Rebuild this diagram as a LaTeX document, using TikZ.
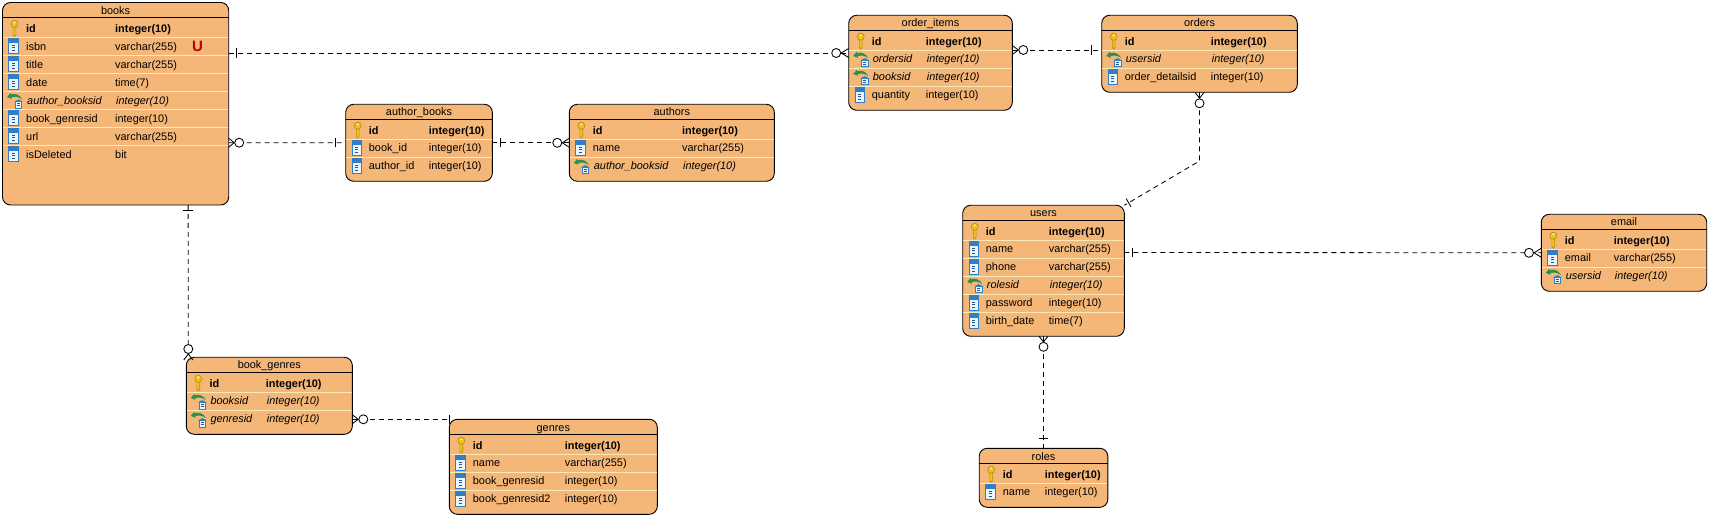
\documentclass[tikz,border=0pt]{standalone}
\usepackage{fontspec}
\setmainfont{Liberation Sans}
\usetikzlibrary{calc}
\definecolor{erfill}{HTML}{F4B778}
\definecolor{ersep}{HTML}{FBE9B8}
\definecolor{erblue}{HTML}{2F7FC8}
\definecolor{ericonbg}{HTML}{EAF4FC}
\definecolor{ergreen}{HTML}{2E8F4E}
\definecolor{erkey}{HTML}{F2C21C}
\definecolor{erkeyedge}{HTML}{B58A10}
\tikzset{
  x=1pt,y=-1pt,
  entity/.style={draw=black,line width=.9pt,fill=erfill,rounded corners=8pt,inner sep=0pt,outer sep=0pt},
  titletext/.style={font=\fontsize{10.9}{12}\selectfont,inner sep=0pt,anchor=base},
  celltext/.style={font=\fontsize{10.9}{12}\selectfont,inner sep=0pt,anchor=base west},
  link/.style={line width=.85pt,dash pattern=on 5pt off 4pt},
  markline/.style={line width=.85pt},
  crowm/.pic={
    \draw[markline] (0,-4.5) -- (#1-5,0) -- (0,4.5);
    \draw[markline,fill=white] (#1,0) circle[radius=4.5pt];
  },
  tickm/.pic={\draw[markline] (#1,-4.7) -- (#1,4.7);},
  keyicon/.pic={
    \draw[line width=.6pt,draw=erkeyedge,fill=erkey] (-1.4,-2) -- (-1.4,6.2) -- (0,7.8) -- (1.4,6.2) -- (1.4,-2) -- cycle;
    \draw[line width=.6pt,draw=erkeyedge,fill=erkey] (0,-4.6) ellipse[x radius=3.5pt,y radius=3.6pt];
    \fill[white] (0,-6) circle[radius=.9pt];
  },
  colicon/.pic={
    \draw[line width=.7pt,draw=erblue,fill=ericonbg] (-4.7,-7.2) rectangle (4.7,7.2);
    \fill[erblue] (-4.7,-7.2) rectangle (4.7,-3);
    \foreach \yy in {-.7,2,4.7}{\draw[line width=1pt,draw=erblue!70!black] (-1.7,\yy) -- (1.7,\yy);}
  },
  fkicon/.pic={
    \fill[erblue!80!ergreen] (.8,1.5) -- (5,-.6) -- (9.2,1.5) -- cycle;
    \draw[line width=.6pt,draw=erblue,fill=ericonbg] (1.8,1.5) rectangle (8.2,8);
    \foreach \yy in {3.5,5.8}{\draw[line width=1pt,draw=erblue!70!black] (3.5,\yy) -- (6.5,\yy);}
    \fill[ergreen] (-6.5,-2.8) -- (-3,-7) -- (-2.6,-5.6) .. controls (2,-7.2) and (6.5,-5) .. (8.5,-.8)
       .. controls (5,-3.4) and (1,-3.6) .. (-2.2,-2.6) -- (-1.8,-1) -- cycle;
  },
}
% \ertable{id}{x1}{y1}{x2}{y2}{title}{textx}{typex}{rows: kind/name/type}
\newcommand{\ertable}[9]{%
  \node[entity,minimum width=#4-#2,minimum height=#5-#3] (#1) at ({(#2+#4)/2},{(#3+#5)/2}) {};
  \node[titletext] (#1-title) at ({(#2+#4)/2},{#3+11.7}) {#6};
  \draw[line width=.9pt] (#2,{#3+14.7}) -- (#4,{#3+14.7});
  \foreach \kd/\nm/\ty [count=\ii] in {#9}{%
    \pgfmathsetmacro{\cy}{\ii==1 ? #3+26 : #3+25.5+18*(\ii-1)}%
    \pgfmathsetmacro{\by}{\cy+4.1}%
    \ifnum\kd=0
      \pic at ({#2+12},\cy) {keyicon};
      \node[celltext,font=\fontsize{10.9}{12}\selectfont\bfseries] (#1-n\ii) at (#7,\by) {\nm};
      \node[celltext,font=\fontsize{10.9}{12}\selectfont\bfseries] (#1-t\ii) at (#8,\by) {\ty};
    \fi
    \ifnum\kd=1
      \pic at ({#2+11},\cy) {colicon};
      \node[celltext] (#1-n\ii) at (#7,\by) {\nm};
      \node[celltext] (#1-t\ii) at (#8,\by) {\ty};
    \fi
    \ifnum\kd=2
      \pic at ({#2+11},\cy) {fkicon};
      \node[celltext,font=\fontsize{10.9}{12}\selectfont\itshape] (#1-n\ii) at ({#7+1},\by) {\nm};
      \node[celltext,font=\fontsize{10.9}{12}\selectfont\itshape] (#1-t\ii) at ({#8+1},\by) {\ty};
    \fi
  }%
}
% separators: \ersep{x1}{x2}{y1}{n}
\newcommand{\ersep}[4]{%
  \foreach \ii in {1,...,#4}{%
    \draw[line width=1pt,draw=ersep] ({#1+.5},{#3+35+18*(\ii-1)}) -- ({#2-.5},{#3+35+18*(\ii-1)});
  }%
}
\begin{document}
\begin{tikzpicture}
\useasboundingbox (0,0) rectangle (1710,518);
\fill[white] (0,0) rectangle (1710,518);

\ertable{books}{2.5}{2.5}{228.7}{205}{books}{26}{115}{0/id/integer(10),1/isbn/varchar(255),1/title/varchar(255),1/date/time(7),2/author\_booksid/integer(10),1/book\_genresid/integer(10),1/url/varchar(255),1/isDeleted/bit}
\ersep{2.5}{228.7}{2.5}{7}
\node[font=\fontsize{15}{16}\selectfont\bfseries,text=red!75!black,inner sep=0pt] (uniq) at (197.5,46) {U};

\ertable{authorbooks}{345.7}{104.3}{492.3}{181.3}{author\_books}{368.7}{428.7}{0/id/integer(10),1/book\_id/integer(10),1/author\_id/integer(10)}
\ersep{345.7}{492.3}{104.3}{2}

\ertable{authors}{569.3}{104.3}{774.3}{181.3}{authors}{592.7}{682}{0/id/integer(10),1/name/varchar(255),2/author\_booksid/integer(10)}
\ersep{569.3}{774.3}{104.3}{2}

\ertable{orderitems}{848.7}{15.3}{1012.3}{110.3}{order\_items}{871.7}{925.7}{0/id/integer(10),2/ordersid/integer(10),2/booksid/integer(10),1/quantity/integer(10)}
\ersep{848.7}{1012.3}{15.3}{3}

\ertable{orders}{1101.7}{15.3}{1297.3}{92.3}{orders}{1124.7}{1210.7}{0/id/integer(10),2/usersid/integer(10),1/order\_detailsid/integer(10)}
\ersep{1101.7}{1297.3}{15.3}{2}

\ertable{users}{962.7}{205.3}{1124.3}{336.3}{users}{985.7}{1048.7}{0/id/integer(10),1/name/varchar(255),1/phone/varchar(255),2/rolesid/integer(10),1/password/integer(10),1/birth\_date/time(7)}
\ersep{962.7}{1124.3}{205.3}{5}

\ertable{roles}{979.2}{448.3}{1107.8}{507.3}{roles}{1002.7}{1044.7}{0/id/integer(10),1/name/integer(10)}
\ersep{979.2}{1107.8}{448.3}{1}

\ertable{email}{1541.3}{214.3}{1706.7}{291.3}{email}{1564.7}{1613.7}{0/id/integer(10),1/email/varchar(255),2/usersid/integer(10)}
\ersep{1541.3}{1706.7}{214.3}{2}

\ertable{bookgenres}{186.3}{357.3}{352.3}{434.3}{book\_genres}{209.3}{265.7}{0/id/integer(10),2/booksid/integer(10),2/genresid/integer(10)}
\ersep{186.3}{352.3}{357.3}{2}

\ertable{genres}{449.3}{419.3}{657.3}{514.3}{genres}{472.7}{564.7}{0/id/integer(10),1/name/varchar(255),1/book\_genresid/integer(10),1/book\_genresid2/integer(10)}
\ersep{449.3}{657.3}{419.3}{3}

% connectors
\coordinate (bend) at (1199.5,161);
\draw[link] ([yshift=50.75pt]books.east) -- ([yshift=9.8pt]orderitems.west);
\draw[link] ([yshift=-38.95pt]books.east) -- (authorbooks.west);
\draw[link] (authorbooks.east) -- (authors.west);
\draw[link] ([yshift=12.8pt]orderitems.east) -- ([yshift=3.8pt]orders.west);
\draw[link] (orders.south) -- (bend) -- (users.north east);
\draw[link] ([yshift=18.3pt]users.east) -- (email.west);
\draw[link] (users.south) -- (roles.north);
\draw[link] ([xshift=72.55pt]books.south) -- ([xshift=2pt]bookgenres.north west);
\draw[link] ([yshift=-23.5pt]bookgenres.east) -- (genres.north west);

% cardinality marks
\pic at ([yshift=50.75pt]books.east) {tickm=7.5};
\pic[rotate=180] at ([yshift=9.8pt]orderitems.west) {crowm=12.5};
\pic at ([yshift=-38.95pt]books.east) {crowm=10.5};
\pic[rotate=180] at (authorbooks.west) {tickm=10};
\pic at (authorbooks.east) {tickm=8};
\pic[rotate=180] at (authors.west) {crowm=12};
\pic at ([yshift=12.8pt]orderitems.east) {crowm=11};
\pic[rotate=180] at ([yshift=3.8pt]orders.west) {tickm=10};
\pic[rotate=-90] at (orders.south) {crowm=11};
\pic[rotate=30.5] at (users.north east) {tickm=5};
\pic at ([yshift=18.3pt]users.east) {tickm=8.5};
\pic[rotate=180] at (email.west) {crowm=12.3};
\pic[rotate=-90] at (users.south) {crowm=10.5};
\pic[rotate=90] at (roles.north) {tickm=10};
\pic[rotate=-90] at ([xshift=72.55pt]books.south) {tickm=5};
\pic[rotate=90] at ([xshift=2pt,yshift=-2.7pt]bookgenres.north west) {crowm=11};
\pic at ([yshift=-23.5pt]bookgenres.east) {crowm=11};
\pic[rotate=180] at (genres.north west) {tickm=0};
\end{tikzpicture}
\end{document}
